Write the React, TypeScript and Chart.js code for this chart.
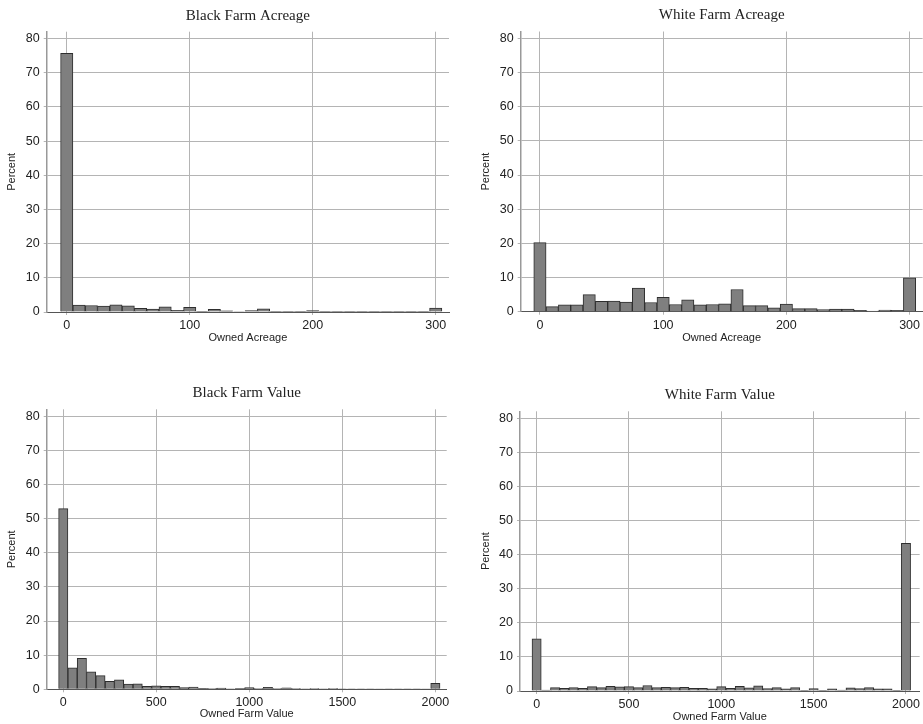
import React, { useEffect, useRef } from "react";
import { Chart, registerables } from "chart.js";

Chart.register(...registerables);

// ---- Data ----
const acreageBins = [0, 10, 20, 30, 40, 50, 60, 70, 80, 90, 100, 110, 120, 130, 140, 150, 160, 170, 180, 190, 200, 210, 220, 230, 240, 250, 260, 270, 280, 290, 300];
const blackAcreagePct = [75.7, 2.0, 1.9, 1.7, 2.1, 1.8, 1.1, 0.85, 1.5, 0.5, 1.4, 0.2, 0.8, 0.35, 0.15, 0.45, 0.9, 0.2, 0.2, 0.1, 0.4, 0.2, 0.1, 0.05, 0.1, 0.1, 0.1, 0.1, 0.05, 0.1, 1.15];
const whiteAcreagePct = [20.2, 1.5, 2.0, 2.0, 5.0, 3.0, 3.1, 2.8, 6.9, 2.7, 4.2, 2.1, 3.5, 2.0, 2.1, 2.3, 6.5, 1.8, 1.8, 1.1, 2.2, 0.9, 0.9, 0.6, 0.8, 0.8, 0.4, 0.2, 0.5, 0.4, 9.9];
const acreageTicks = [0, 100, 200, 300];

const valueBins = [0, 50, 100, 150, 200, 250, 300, 350, 400, 450, 500, 550, 600, 650, 700, 750, 800, 850, 900, 950, 1000, 1050, 1100, 1150, 1200, 1250, 1300, 1350, 1400, 1450, 1500, 1550, 1600, 1650, 1700, 1750, 1800, 1850, 1900, 1950, 2000];
const blackValuePct = [52.9, 6.3, 9.1, 5.1, 4.0, 2.3, 2.8, 1.5, 1.6, 0.9, 1.0, 0.85, 0.85, 0.5, 0.65, 0.25, 0.2, 0.35, 0.15, 0.3, 0.5, 0.2, 0.55, 0.2, 0.4, 0.2, 0.15, 0.2, 0.1, 0.2, 0.1, 0.1, 0.15, 0.15, 0.05, 0.15, 0.15, 0.15, 0.15, 0.05, 1.75];
const whiteValuePct = [15.3, 0.3, 1.0, 0.8, 1.0, 0.8, 1.3, 1.0, 1.4, 1.2, 1.3, 1.0, 1.6, 1.0, 1.1, 1.0, 1.1, 0.8, 0.8, 0.6, 1.3, 0.8, 1.4, 0.9, 1.5, 0.7, 1.0, 0.6, 1.0, 0.1, 0.7, 0.1, 0.6, 0.3, 0.9, 0.7, 1.0, 0.6, 0.6, 0.1, 43.3];
const valueTicks = [0, 500, 1000, 1500, 2000];

const percentTicks = [0, 10, 20, 30, 40, 50, 60, 70, 80];
const yMin = 0;
const yMax = 82;

type Area = { left: number; right: number; top: number; bottom: number };

type PanelProps = {
  pos: { left: number; top: number; width: number; height: number };
  area: Area;
  title: string;
  xTitle: string;
  bins: number[];
  values: number[];
  xMin: number;
  xMax: number;
  xTicks: number[];
  yTitleX: number;
  xTitleY: number;
};

function Panel(p: PanelProps) {
  const ref = useRef<HTMLCanvasElement | null>(null);
  useEffect(() => {
    if (!ref.current) return;
    const titleSize = 15;
    const titleLH = 1.2;
    const titlePB = 7;
    const titlePT = p.area.top - titleSize * titleLH - titlePB;
    const axisTitleSize = 11;
    const axisLH = 1.2;
    const tickFont = { family: "'Liberation Sans', Arial, sans-serif", size: 12.5 };
    const chart = new Chart(ref.current, {
      type: "bar",
      data: {
        datasets: [
          {
            data: p.bins.map((b, i) => ({ x: b, y: p.values[i] })),
            backgroundColor: "#7f7f7f",
            borderColor: "#2e2e2e",
            borderWidth: 1,
            barPercentage: 1,
            categoryPercentage: 1,
          },
        ],
      },
      options: {
        responsive: false,
        animation: false,
        events: [],
        layout: { padding: { left: 0, right: p.pos.width - p.area.right, top: 0, bottom: 0 } },
        plugins: {
          legend: { display: false },
          tooltip: { enabled: false },
          title: {
            display: true,
            text: p.title,
            fullSize: false,
            color: "#222",
            font: { family: "'Liberation Serif', 'Times New Roman', serif", size: titleSize, weight: "normal", lineHeight: titleLH },
            padding: { top: titlePT, bottom: titlePB },
          },
        },
        scales: {
          x: {
            type: "linear",
            min: p.xMin,
            max: p.xMax,
            offset: false,
            grid: { offset: false, color: "#b4b4b4", lineWidth: 1, tickLength: 3, drawTicks: true },
            border: { color: "#555", width: 1 },
            afterBuildTicks: (s: any) => {
              s.ticks = p.xTicks.map((v) => ({ value: v }));
            },
            ticks: {
              padding: 3,
              maxRotation: 0,
              autoSkip: false,
              color: "#222",
              font: tickFont,
              callback: (v: any) => String(v),
            },
            title: {
              display: true,
              text: p.xTitle,
              color: "#222",
              font: { family: "'Liberation Sans', Arial, sans-serif", size: axisTitleSize, lineHeight: axisLH },
              padding: { top: 0, bottom: p.pos.height - p.xTitleY - (axisTitleSize * axisLH) / 2 },
            },
            afterFit: (s: any) => {
              s.height = p.pos.height - p.area.bottom;
            },
          },
          y: {
            type: "linear",
            min: yMin,
            max: yMax,
            grid: { color: "#b4b4b4", lineWidth: 1, tickLength: 3 },
            border: { color: "#999", width: 1.5 },
            afterBuildTicks: (s: any) => {
              s.ticks = percentTicks.map((v) => ({ value: v }));
            },
            ticks: {
              padding: 4,
              color: "#222",
              font: tickFont,
            },
            title: {
              display: true,
              text: "Percent",
              color: "#222",
              font: { family: "'Liberation Sans', Arial, sans-serif", size: axisTitleSize, lineHeight: axisLH },
              padding: { top: p.yTitleX - (axisTitleSize * axisLH) / 2, bottom: 0 },
            },
            afterFit: (s: any) => {
              s.width = p.area.left;
            },
          },
        },
      } as any,
    });
    return () => chart.destroy();
  }, []);
  return (
    <canvas
      ref={ref}
      width={p.pos.width}
      height={p.pos.height}
      style={{ position: "absolute", left: p.pos.left, top: p.pos.top, width: p.pos.width, height: p.pos.height }}
    />
  );
}

export default function App() {
  return (
    <div style={{ position: "absolute", left: 0, top: 0, width: 923, height: 724, background: "#fff", overflow: "hidden" }}>
      <Panel
        pos={{ left: 0, top: 0, width: 460, height: 360 }}
        area={{ left: 46.7, right: 449, top: 31.7, bottom: 312 }}
        title="Black Farm Acreage"
        xTitle="Owned Acreage"
        bins={acreageBins}
        values={blackAcreagePct}
        xMin={-16.3}
        xMax={310.8}
        xTicks={acreageTicks}
        yTitleX={12.3}
        xTitleY={338.3}
      />
      <Panel
        pos={{ left: 460, top: 0, width: 463, height: 360 }}
        area={{ left: 60.7, right: 463, top: 31.5, bottom: 311.7 }}
        title="White Farm Acreage"
        xTitle="Owned Acreage"
        bins={acreageBins}
        values={whiteAcreagePct}
        xMin={-15.6}
        xMax={310.6}
        xTicks={acreageTicks}
        yTitleX={26.2}
        xTitleY={338.3}
      />
      <Panel
        pos={{ left: 0, top: 362, width: 460, height: 362 }}
        area={{ left: 46.7, right: 446.7, top: 47.3, bottom: 327.3 }}
        title="Black Farm Value"
        xTitle="Owned Farm Value"
        bins={valueBins}
        values={blackValuePct}
        xMin={-89}
        xMax={2061}
        xTicks={valueTicks}
        yTitleX={12.3}
        xTitleY={352.3}
      />
      <Panel
        pos={{ left: 460, top: 362, width: 463, height: 362 }}
        area={{ left: 60, right: 463, top: 49.3, bottom: 329 }}
        title="White Farm Value"
        xTitle="Owned Farm Value"
        bins={valueBins}
        values={whiteValuePct}
        xMin={-90}
        xMax={2074}
        xTicks={valueTicks}
        yTitleX={26.2}
        xTitleY={354.7}
      />
    </div>
  );
}
